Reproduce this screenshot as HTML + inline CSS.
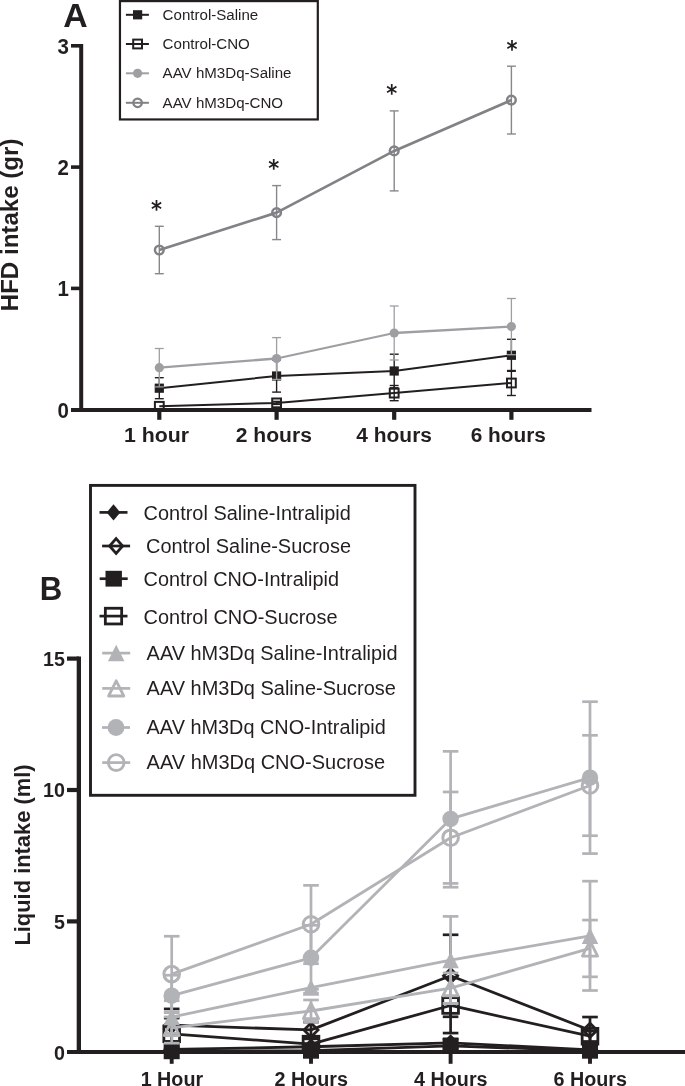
<!DOCTYPE html>
<html lang="en"><head><meta charset="utf-8"><title>Figure</title>
<style>
html,body{margin:0;padding:0;background:#fff;}
body{width:685px;height:1086px;overflow:hidden;}
svg{display:block;}
svg text{font-family:"Liberation Sans",sans-serif;fill:#231f20;}
</style></head><body>
<svg width="685" height="1086" viewBox="0 0 685 1086">
<rect width="685" height="1086" fill="#fff"/>
<line x1="81.20" y1="44.00" x2="81.20" y2="411.90" stroke="#231f20" stroke-width="4" stroke-linecap="butt"/>
<line x1="71.00" y1="409.90" x2="591.50" y2="409.90" stroke="#231f20" stroke-width="4.0" stroke-linecap="butt"/>
<line x1="71.00" y1="45.80" x2="81.20" y2="45.80" stroke="#231f20" stroke-width="3.6" stroke-linecap="butt"/>
<line x1="71.00" y1="167.10" x2="81.20" y2="167.10" stroke="#231f20" stroke-width="3.6" stroke-linecap="butt"/>
<line x1="71.00" y1="288.40" x2="81.20" y2="288.40" stroke="#231f20" stroke-width="3.6" stroke-linecap="butt"/>
<text transform="translate(68.90 53.70) scale(1 1.12)" font-size="20.5" font-weight="bold" text-anchor="end">3</text>
<text transform="translate(68.90 175.00) scale(1 1.12)" font-size="20.5" font-weight="bold" text-anchor="end">2</text>
<text transform="translate(68.90 296.30) scale(1 1.12)" font-size="20.5" font-weight="bold" text-anchor="end">1</text>
<text transform="translate(68.90 418.10) scale(1 1.12)" font-size="20.5" font-weight="bold" text-anchor="end">0</text>
<line x1="159.30" y1="409.90" x2="159.30" y2="419.80" stroke="#231f20" stroke-width="4.2" stroke-linecap="butt"/>
<line x1="276.60" y1="409.90" x2="276.60" y2="419.80" stroke="#231f20" stroke-width="4.2" stroke-linecap="butt"/>
<line x1="394.20" y1="409.90" x2="394.20" y2="419.80" stroke="#231f20" stroke-width="4.2" stroke-linecap="butt"/>
<line x1="511.40" y1="409.90" x2="511.40" y2="419.80" stroke="#231f20" stroke-width="4.2" stroke-linecap="butt"/>
<text transform="translate(156.50 441.90) scale(1.03 1)" font-size="20.7" font-weight="bold" text-anchor="middle">1 hour</text>
<text transform="translate(273.85 441.90) scale(1.02 1)" font-size="20.7" font-weight="bold" text-anchor="middle">2 hours</text>
<text transform="translate(394.10 441.90) scale(1.012 1)" font-size="20.7" font-weight="bold" text-anchor="middle">4 hours</text>
<text transform="translate(508.30 441.90) scale(1.005 1)" font-size="20.7" font-weight="bold" text-anchor="middle">6 hours</text>
<text x="0.00" y="0.00" font-size="23.5" font-weight="bold" text-anchor="middle" transform="translate(18.2 224.9) rotate(-90) scale(1.026 1)">HFD intake (gr)</text>
<text transform="translate(75.45 26.50) scale(1.147 1.13)" font-size="29.5" font-weight="bold" text-anchor="middle">A</text>
<line x1="159.30" y1="377.70" x2="159.30" y2="398.70" stroke="#231f20" stroke-width="1.4" stroke-linecap="butt"/>
<line x1="154.85" y1="377.70" x2="163.75" y2="377.70" stroke="#231f20" stroke-width="1.4" stroke-linecap="butt"/>
<line x1="154.85" y1="398.70" x2="163.75" y2="398.70" stroke="#231f20" stroke-width="1.4" stroke-linecap="butt"/>
<line x1="276.60" y1="359.90" x2="276.60" y2="392.10" stroke="#231f20" stroke-width="1.4" stroke-linecap="butt"/>
<line x1="272.15" y1="359.90" x2="281.05" y2="359.90" stroke="#231f20" stroke-width="1.4" stroke-linecap="butt"/>
<line x1="272.15" y1="392.10" x2="281.05" y2="392.10" stroke="#231f20" stroke-width="1.4" stroke-linecap="butt"/>
<line x1="394.20" y1="354.20" x2="394.20" y2="387.80" stroke="#231f20" stroke-width="1.4" stroke-linecap="butt"/>
<line x1="389.75" y1="354.20" x2="398.65" y2="354.20" stroke="#231f20" stroke-width="1.4" stroke-linecap="butt"/>
<line x1="389.75" y1="387.80" x2="398.65" y2="387.80" stroke="#231f20" stroke-width="1.4" stroke-linecap="butt"/>
<line x1="511.40" y1="339.30" x2="511.40" y2="371.30" stroke="#231f20" stroke-width="1.4" stroke-linecap="butt"/>
<line x1="506.95" y1="339.30" x2="515.85" y2="339.30" stroke="#231f20" stroke-width="1.4" stroke-linecap="butt"/>
<line x1="506.95" y1="371.30" x2="515.85" y2="371.30" stroke="#231f20" stroke-width="1.4" stroke-linecap="butt"/>
<polyline points="159.30,388.20 276.60,376.00 394.20,371.00 511.40,355.30" fill="none" stroke="#231f20" stroke-width="2.0" stroke-linejoin="round"/>
<rect x="154.70" y="383.60" width="9.20" height="9.20" fill="#231f20"/>
<rect x="272.00" y="371.40" width="9.20" height="9.20" fill="#231f20"/>
<rect x="389.60" y="366.40" width="9.20" height="9.20" fill="#231f20"/>
<rect x="506.80" y="350.70" width="9.20" height="9.20" fill="#231f20"/>
<line x1="159.30" y1="406.30" x2="159.30" y2="406.30" stroke="#231f20" stroke-width="1.4" stroke-linecap="butt"/>
<line x1="276.60" y1="401.40" x2="276.60" y2="404.40" stroke="#231f20" stroke-width="1.4" stroke-linecap="butt"/>
<line x1="272.15" y1="401.40" x2="281.05" y2="401.40" stroke="#231f20" stroke-width="1.4" stroke-linecap="butt"/>
<line x1="272.15" y1="404.40" x2="281.05" y2="404.40" stroke="#231f20" stroke-width="1.4" stroke-linecap="butt"/>
<line x1="394.20" y1="385.50" x2="394.20" y2="400.70" stroke="#231f20" stroke-width="1.4" stroke-linecap="butt"/>
<line x1="389.75" y1="385.50" x2="398.65" y2="385.50" stroke="#231f20" stroke-width="1.4" stroke-linecap="butt"/>
<line x1="389.75" y1="400.70" x2="398.65" y2="400.70" stroke="#231f20" stroke-width="1.4" stroke-linecap="butt"/>
<line x1="511.40" y1="370.50" x2="511.40" y2="395.50" stroke="#231f20" stroke-width="1.4" stroke-linecap="butt"/>
<line x1="506.95" y1="370.50" x2="515.85" y2="370.50" stroke="#231f20" stroke-width="1.4" stroke-linecap="butt"/>
<line x1="506.95" y1="395.50" x2="515.85" y2="395.50" stroke="#231f20" stroke-width="1.4" stroke-linecap="butt"/>
<polyline points="159.30,406.30 276.60,402.90 394.20,393.10 511.40,383.00" fill="none" stroke="#231f20" stroke-width="2.0" stroke-linejoin="round"/>
<rect x="154.90" y="401.90" width="8.80" height="8.80" fill="none" stroke="#231f20" stroke-width="2.0"/>
<rect x="272.20" y="398.50" width="8.80" height="8.80" fill="none" stroke="#231f20" stroke-width="2.0"/>
<rect x="389.80" y="388.70" width="8.80" height="8.80" fill="none" stroke="#231f20" stroke-width="2.0"/>
<rect x="507.00" y="378.60" width="8.80" height="8.80" fill="none" stroke="#231f20" stroke-width="2.0"/>
<line x1="159.30" y1="348.50" x2="159.30" y2="386.90" stroke="#9d9fa2" stroke-width="1.3" stroke-linecap="butt"/>
<line x1="154.85" y1="348.50" x2="163.75" y2="348.50" stroke="#9d9fa2" stroke-width="1.3" stroke-linecap="butt"/>
<line x1="154.85" y1="386.90" x2="163.75" y2="386.90" stroke="#9d9fa2" stroke-width="1.3" stroke-linecap="butt"/>
<line x1="276.60" y1="337.60" x2="276.60" y2="379.40" stroke="#9d9fa2" stroke-width="1.3" stroke-linecap="butt"/>
<line x1="272.15" y1="337.60" x2="281.05" y2="337.60" stroke="#9d9fa2" stroke-width="1.3" stroke-linecap="butt"/>
<line x1="272.15" y1="379.40" x2="281.05" y2="379.40" stroke="#9d9fa2" stroke-width="1.3" stroke-linecap="butt"/>
<line x1="394.20" y1="306.00" x2="394.20" y2="360.00" stroke="#9d9fa2" stroke-width="1.3" stroke-linecap="butt"/>
<line x1="389.75" y1="306.00" x2="398.65" y2="306.00" stroke="#9d9fa2" stroke-width="1.3" stroke-linecap="butt"/>
<line x1="389.75" y1="360.00" x2="398.65" y2="360.00" stroke="#9d9fa2" stroke-width="1.3" stroke-linecap="butt"/>
<line x1="511.40" y1="298.50" x2="511.40" y2="354.70" stroke="#9d9fa2" stroke-width="1.3" stroke-linecap="butt"/>
<line x1="506.95" y1="298.50" x2="515.85" y2="298.50" stroke="#9d9fa2" stroke-width="1.3" stroke-linecap="butt"/>
<line x1="506.95" y1="354.70" x2="515.85" y2="354.70" stroke="#9d9fa2" stroke-width="1.3" stroke-linecap="butt"/>
<polyline points="159.30,367.70 276.60,358.50 394.20,333.00 511.40,326.60" fill="none" stroke="#9d9fa2" stroke-width="2.3" stroke-linejoin="round"/>
<ellipse cx="159.30" cy="367.70" rx="4.60" ry="4.60" fill="#9d9fa2"/>
<ellipse cx="276.60" cy="358.50" rx="4.60" ry="4.60" fill="#9d9fa2"/>
<ellipse cx="394.20" cy="333.00" rx="4.60" ry="4.60" fill="#9d9fa2"/>
<ellipse cx="511.40" cy="326.60" rx="4.60" ry="4.60" fill="#9d9fa2"/>
<line x1="159.30" y1="226.30" x2="159.30" y2="273.70" stroke="#86888b" stroke-width="1.4" stroke-linecap="butt"/>
<line x1="154.85" y1="226.30" x2="163.75" y2="226.30" stroke="#86888b" stroke-width="1.4" stroke-linecap="butt"/>
<line x1="154.85" y1="273.70" x2="163.75" y2="273.70" stroke="#86888b" stroke-width="1.4" stroke-linecap="butt"/>
<line x1="276.60" y1="185.60" x2="276.60" y2="239.60" stroke="#86888b" stroke-width="1.4" stroke-linecap="butt"/>
<line x1="272.15" y1="185.60" x2="281.05" y2="185.60" stroke="#86888b" stroke-width="1.4" stroke-linecap="butt"/>
<line x1="272.15" y1="239.60" x2="281.05" y2="239.60" stroke="#86888b" stroke-width="1.4" stroke-linecap="butt"/>
<line x1="394.20" y1="110.90" x2="394.20" y2="190.90" stroke="#86888b" stroke-width="1.4" stroke-linecap="butt"/>
<line x1="389.75" y1="110.90" x2="398.65" y2="110.90" stroke="#86888b" stroke-width="1.4" stroke-linecap="butt"/>
<line x1="389.75" y1="190.90" x2="398.65" y2="190.90" stroke="#86888b" stroke-width="1.4" stroke-linecap="butt"/>
<line x1="511.40" y1="66.20" x2="511.40" y2="134.00" stroke="#86888b" stroke-width="1.4" stroke-linecap="butt"/>
<line x1="506.95" y1="66.20" x2="515.85" y2="66.20" stroke="#86888b" stroke-width="1.4" stroke-linecap="butt"/>
<line x1="506.95" y1="134.00" x2="515.85" y2="134.00" stroke="#86888b" stroke-width="1.4" stroke-linecap="butt"/>
<polyline points="159.30,250.00 276.60,212.60 394.20,150.90 511.40,100.10" fill="none" stroke="#808285" stroke-width="2.7" stroke-linejoin="round"/>
<ellipse cx="159.30" cy="250.00" rx="4.35" ry="4.35" fill="none" stroke="#808285" stroke-width="2.5"/>
<ellipse cx="276.60" cy="212.60" rx="4.35" ry="4.35" fill="none" stroke="#808285" stroke-width="2.5"/>
<ellipse cx="394.20" cy="150.90" rx="4.35" ry="4.35" fill="none" stroke="#808285" stroke-width="2.5"/>
<ellipse cx="511.40" cy="100.10" rx="4.35" ry="4.35" fill="none" stroke="#808285" stroke-width="2.5"/>
<text transform="translate(156.50 216.97) scale(0.93 1)" font-size="22.6" font-weight="bold" text-anchor="middle" style="font-family:'DejaVu Sans','Liberation Sans',sans-serif">*</text>
<text transform="translate(273.79 175.60) scale(0.93 1)" font-size="22.6" font-weight="bold" text-anchor="middle" style="font-family:'DejaVu Sans','Liberation Sans',sans-serif">*</text>
<text transform="translate(391.79 101.24) scale(0.93 1)" font-size="22.6" font-weight="bold" text-anchor="middle" style="font-family:'DejaVu Sans','Liberation Sans',sans-serif">*</text>
<text transform="translate(512.00 57.12) scale(0.93 1)" font-size="22.6" font-weight="bold" text-anchor="middle" style="font-family:'DejaVu Sans','Liberation Sans',sans-serif">*</text>
<rect x="119.96" y="1.1" width="197.84" height="118.35" fill="#fff" stroke="#231f20" stroke-width="2.2"/>
<line x1="125.90" y1="14.80" x2="148.90" y2="14.80" stroke="#231f20" stroke-width="2.0" stroke-linecap="butt"/>
<rect x="133.00" y="10.20" width="9.20" height="9.20" fill="#231f20"/>
<text transform="translate(162.60 20.10) scale(1 1)" font-size="15.1" font-weight="normal" text-anchor="start">Control-Saline</text>
<line x1="125.90" y1="44.00" x2="148.90" y2="44.00" stroke="#231f20" stroke-width="2.0" stroke-linecap="butt"/>
<rect x="133.20" y="39.60" width="8.80" height="8.80" fill="none" stroke="#231f20" stroke-width="2.0"/>
<text transform="translate(162.60 48.90) scale(1 1)" font-size="15.1" font-weight="normal" text-anchor="start">Control-CNO</text>
<line x1="125.90" y1="73.30" x2="148.90" y2="73.30" stroke="#9d9fa2" stroke-width="2.0" stroke-linecap="butt"/>
<ellipse cx="137.60" cy="73.30" rx="4.60" ry="4.60" fill="#9d9fa2"/>
<text transform="translate(162.60 78.20) scale(1 1)" font-size="15.1" font-weight="normal" text-anchor="start">AAV hM3Dq-Saline</text>
<line x1="125.90" y1="102.80" x2="148.90" y2="102.80" stroke="#808285" stroke-width="2.0" stroke-linecap="butt"/>
<ellipse cx="137.60" cy="102.80" rx="4.25" ry="4.25" fill="none" stroke="#808285" stroke-width="2.3"/>
<text transform="translate(162.60 107.90) scale(1 1)" font-size="15.1" font-weight="normal" text-anchor="start">AAV hM3Dq-CNO</text>
<line x1="78.85" y1="656.50" x2="78.85" y2="1054.10" stroke="#231f20" stroke-width="4.3" stroke-linecap="butt"/>
<line x1="67.00" y1="1052.00" x2="685.00" y2="1052.00" stroke="#231f20" stroke-width="4.2" stroke-linecap="butt"/>
<line x1="67.00" y1="658.60" x2="78.85" y2="658.60" stroke="#231f20" stroke-width="4.2" stroke-linecap="butt"/>
<line x1="67.00" y1="790.00" x2="78.85" y2="790.00" stroke="#231f20" stroke-width="4.2" stroke-linecap="butt"/>
<line x1="67.00" y1="921.40" x2="78.85" y2="921.40" stroke="#231f20" stroke-width="4.2" stroke-linecap="butt"/>
<text transform="translate(65.00 665.80) scale(1.077 1.13)" font-size="18.3" font-weight="bold" text-anchor="end">15</text>
<text transform="translate(65.00 797.20) scale(1.077 1.13)" font-size="18.3" font-weight="bold" text-anchor="end">10</text>
<text transform="translate(65.00 928.60) scale(1.077 1.13)" font-size="18.3" font-weight="bold" text-anchor="end">5</text>
<text transform="translate(65.00 1060.00) scale(1.077 1.13)" font-size="18.3" font-weight="bold" text-anchor="end">0</text>
<line x1="171.70" y1="1052.00" x2="171.70" y2="1063.80" stroke="#231f20" stroke-width="3.9" stroke-linecap="butt"/>
<line x1="311.00" y1="1052.00" x2="311.00" y2="1063.80" stroke="#231f20" stroke-width="3.9" stroke-linecap="butt"/>
<line x1="450.60" y1="1052.00" x2="450.60" y2="1063.80" stroke="#231f20" stroke-width="3.9" stroke-linecap="butt"/>
<line x1="590.00" y1="1052.00" x2="590.00" y2="1063.80" stroke="#231f20" stroke-width="3.9" stroke-linecap="butt"/>
<text transform="translate(171.90 1086.00) scale(0.988 1.04)" font-size="20" font-weight="bold" text-anchor="middle">1 Hour</text>
<text transform="translate(311.20 1086.00) scale(0.988 1.04)" font-size="20" font-weight="bold" text-anchor="middle">2 Hours</text>
<text transform="translate(450.80 1086.00) scale(0.988 1.04)" font-size="20" font-weight="bold" text-anchor="middle">4 Hours</text>
<text transform="translate(590.20 1086.00) scale(0.988 1.04)" font-size="20" font-weight="bold" text-anchor="middle">6 Hours</text>
<text x="0.00" y="0.00" font-size="21.9" font-weight="bold" text-anchor="middle" transform="translate(30.4 855.0) rotate(-90) scale(1 1.04)">Liquid intake (ml)</text>
<text transform="translate(39.80 600.20) scale(1.093 1.18)" font-size="28.5" font-weight="bold" text-anchor="start">B</text>
<line x1="171.70" y1="1046.74" x2="171.70" y2="1052.00" stroke="#231f20" stroke-width="2.7" stroke-linecap="butt"/>
<line x1="163.90" y1="1046.74" x2="179.50" y2="1046.74" stroke="#231f20" stroke-width="2.7" stroke-linecap="butt"/>
<line x1="163.90" y1="1052.00" x2="179.50" y2="1052.00" stroke="#231f20" stroke-width="2.7" stroke-linecap="butt"/>
<line x1="311.00" y1="1044.12" x2="311.00" y2="1049.37" stroke="#231f20" stroke-width="2.7" stroke-linecap="butt"/>
<line x1="303.20" y1="1044.12" x2="318.80" y2="1044.12" stroke="#231f20" stroke-width="2.7" stroke-linecap="butt"/>
<line x1="303.20" y1="1049.37" x2="318.80" y2="1049.37" stroke="#231f20" stroke-width="2.7" stroke-linecap="butt"/>
<line x1="450.60" y1="1038.86" x2="450.60" y2="1046.74" stroke="#231f20" stroke-width="2.7" stroke-linecap="butt"/>
<line x1="442.80" y1="1038.86" x2="458.40" y2="1038.86" stroke="#231f20" stroke-width="2.7" stroke-linecap="butt"/>
<line x1="442.80" y1="1046.74" x2="458.40" y2="1046.74" stroke="#231f20" stroke-width="2.7" stroke-linecap="butt"/>
<line x1="590.00" y1="1048.58" x2="590.00" y2="1051.21" stroke="#231f20" stroke-width="2.7" stroke-linecap="butt"/>
<line x1="582.20" y1="1048.58" x2="597.80" y2="1048.58" stroke="#231f20" stroke-width="2.7" stroke-linecap="butt"/>
<line x1="582.20" y1="1051.21" x2="597.80" y2="1051.21" stroke="#231f20" stroke-width="2.7" stroke-linecap="butt"/>
<polyline points="171.70,1049.37 311.00,1046.74 450.60,1042.80 590.00,1049.90" fill="none" stroke="#231f20" stroke-width="2.8" stroke-linejoin="round"/>
<polygon points="171.70,1040.87 180.20,1049.37 171.70,1057.87 163.20,1049.37" fill="#231f20"/>
<polygon points="311.00,1038.24 319.50,1046.74 311.00,1055.24 302.50,1046.74" fill="#231f20"/>
<polygon points="450.60,1034.30 459.10,1042.80 450.60,1051.30 442.10,1042.80" fill="#231f20"/>
<polygon points="590.00,1041.40 598.50,1049.90 590.00,1058.40 581.50,1049.90" fill="#231f20"/>
<line x1="171.70" y1="1008.90" x2="171.70" y2="1041.49" stroke="#231f20" stroke-width="2.7" stroke-linecap="butt"/>
<line x1="163.90" y1="1008.90" x2="179.50" y2="1008.90" stroke="#231f20" stroke-width="2.7" stroke-linecap="butt"/>
<line x1="163.90" y1="1041.49" x2="179.50" y2="1041.49" stroke="#231f20" stroke-width="2.7" stroke-linecap="butt"/>
<line x1="311.00" y1="1022.04" x2="311.00" y2="1037.81" stroke="#231f20" stroke-width="2.7" stroke-linecap="butt"/>
<line x1="303.20" y1="1022.04" x2="318.80" y2="1022.04" stroke="#231f20" stroke-width="2.7" stroke-linecap="butt"/>
<line x1="303.20" y1="1037.81" x2="318.80" y2="1037.81" stroke="#231f20" stroke-width="2.7" stroke-linecap="butt"/>
<line x1="450.60" y1="934.79" x2="450.60" y2="1016.78" stroke="#231f20" stroke-width="2.7" stroke-linecap="butt"/>
<line x1="442.80" y1="934.79" x2="458.40" y2="934.79" stroke="#231f20" stroke-width="2.7" stroke-linecap="butt"/>
<line x1="442.80" y1="1016.78" x2="458.40" y2="1016.78" stroke="#231f20" stroke-width="2.7" stroke-linecap="butt"/>
<line x1="590.00" y1="1017.05" x2="590.00" y2="1043.33" stroke="#231f20" stroke-width="2.7" stroke-linecap="butt"/>
<line x1="582.20" y1="1017.05" x2="597.80" y2="1017.05" stroke="#231f20" stroke-width="2.7" stroke-linecap="butt"/>
<line x1="582.20" y1="1043.33" x2="597.80" y2="1043.33" stroke="#231f20" stroke-width="2.7" stroke-linecap="butt"/>
<polyline points="171.70,1025.19 311.00,1029.92 450.60,975.79 590.00,1030.19" fill="none" stroke="#231f20" stroke-width="2.8" stroke-linejoin="round"/>
<polygon points="171.70,1018.17 178.72,1025.19 171.70,1032.21 164.68,1025.19" fill="none" stroke="#231f20" stroke-width="2.8" stroke-linejoin="miter" stroke-miterlimit="10"/>
<polygon points="311.00,1022.90 318.02,1029.92 311.00,1036.94 303.98,1029.92" fill="none" stroke="#231f20" stroke-width="2.8" stroke-linejoin="miter" stroke-miterlimit="10"/>
<polygon points="450.60,968.77 457.62,975.79 450.60,982.81 443.58,975.79" fill="none" stroke="#231f20" stroke-width="2.8" stroke-linejoin="miter" stroke-miterlimit="10"/>
<polygon points="590.00,1023.17 597.02,1030.19 590.00,1037.21 582.98,1030.19" fill="none" stroke="#231f20" stroke-width="2.8" stroke-linejoin="miter" stroke-miterlimit="10"/>
<line x1="171.70" y1="1049.90" x2="171.70" y2="1052.53" stroke="#231f20" stroke-width="2.7" stroke-linecap="butt"/>
<line x1="163.90" y1="1049.90" x2="179.50" y2="1049.90" stroke="#231f20" stroke-width="2.7" stroke-linecap="butt"/>
<line x1="163.90" y1="1052.53" x2="179.50" y2="1052.53" stroke="#231f20" stroke-width="2.7" stroke-linecap="butt"/>
<line x1="311.00" y1="1049.37" x2="311.00" y2="1052.00" stroke="#231f20" stroke-width="2.7" stroke-linecap="butt"/>
<line x1="303.20" y1="1049.37" x2="318.80" y2="1049.37" stroke="#231f20" stroke-width="2.7" stroke-linecap="butt"/>
<line x1="303.20" y1="1052.00" x2="318.80" y2="1052.00" stroke="#231f20" stroke-width="2.7" stroke-linecap="butt"/>
<line x1="450.60" y1="1043.33" x2="450.60" y2="1048.58" stroke="#231f20" stroke-width="2.7" stroke-linecap="butt"/>
<line x1="442.80" y1="1043.33" x2="458.40" y2="1043.33" stroke="#231f20" stroke-width="2.7" stroke-linecap="butt"/>
<line x1="442.80" y1="1048.58" x2="458.40" y2="1048.58" stroke="#231f20" stroke-width="2.7" stroke-linecap="butt"/>
<line x1="590.00" y1="1049.37" x2="590.00" y2="1052.00" stroke="#231f20" stroke-width="2.7" stroke-linecap="butt"/>
<line x1="582.20" y1="1049.37" x2="597.80" y2="1049.37" stroke="#231f20" stroke-width="2.7" stroke-linecap="butt"/>
<line x1="582.20" y1="1052.00" x2="597.80" y2="1052.00" stroke="#231f20" stroke-width="2.7" stroke-linecap="butt"/>
<polyline points="171.70,1051.21 311.00,1050.69 450.60,1045.96 590.00,1050.69" fill="none" stroke="#231f20" stroke-width="2.8" stroke-linejoin="round"/>
<rect x="163.70" y="1043.21" width="16.00" height="16.00" fill="#231f20"/>
<rect x="303.00" y="1042.69" width="16.00" height="16.00" fill="#231f20"/>
<rect x="442.60" y="1037.96" width="16.00" height="16.00" fill="#231f20"/>
<rect x="582.00" y="1042.69" width="16.00" height="16.00" fill="#231f20"/>
<line x1="171.70" y1="1018.10" x2="171.70" y2="1049.63" stroke="#231f20" stroke-width="2.7" stroke-linecap="butt"/>
<line x1="163.90" y1="1018.10" x2="179.50" y2="1018.10" stroke="#231f20" stroke-width="2.7" stroke-linecap="butt"/>
<line x1="163.90" y1="1049.63" x2="179.50" y2="1049.63" stroke="#231f20" stroke-width="2.7" stroke-linecap="butt"/>
<line x1="311.00" y1="1038.86" x2="311.00" y2="1049.37" stroke="#231f20" stroke-width="2.7" stroke-linecap="butt"/>
<line x1="303.20" y1="1038.86" x2="318.80" y2="1038.86" stroke="#231f20" stroke-width="2.7" stroke-linecap="butt"/>
<line x1="303.20" y1="1049.37" x2="318.80" y2="1049.37" stroke="#231f20" stroke-width="2.7" stroke-linecap="butt"/>
<line x1="450.60" y1="977.89" x2="450.60" y2="1033.08" stroke="#231f20" stroke-width="2.7" stroke-linecap="butt"/>
<line x1="442.80" y1="977.89" x2="458.40" y2="977.89" stroke="#231f20" stroke-width="2.7" stroke-linecap="butt"/>
<line x1="442.80" y1="1033.08" x2="458.40" y2="1033.08" stroke="#231f20" stroke-width="2.7" stroke-linecap="butt"/>
<line x1="590.00" y1="1030.98" x2="590.00" y2="1041.49" stroke="#231f20" stroke-width="2.7" stroke-linecap="butt"/>
<line x1="582.20" y1="1030.98" x2="597.80" y2="1030.98" stroke="#231f20" stroke-width="2.7" stroke-linecap="butt"/>
<line x1="582.20" y1="1041.49" x2="597.80" y2="1041.49" stroke="#231f20" stroke-width="2.7" stroke-linecap="butt"/>
<polyline points="171.70,1033.87 311.00,1044.12 450.60,1005.48 590.00,1036.23" fill="none" stroke="#231f20" stroke-width="2.8" stroke-linejoin="round"/>
<rect x="163.85" y="1026.02" width="15.70" height="15.70" fill="none" stroke="#231f20" stroke-width="2.8"/>
<rect x="303.15" y="1036.27" width="15.70" height="15.70" fill="none" stroke="#231f20" stroke-width="2.8"/>
<rect x="442.75" y="997.63" width="15.70" height="15.70" fill="none" stroke="#231f20" stroke-width="2.8"/>
<rect x="582.15" y="1028.38" width="15.70" height="15.70" fill="none" stroke="#231f20" stroke-width="2.8"/>
<line x1="171.70" y1="1000.75" x2="171.70" y2="1033.34" stroke="#b1b3b6" stroke-width="2.7" stroke-linecap="butt"/>
<line x1="163.90" y1="1000.75" x2="179.50" y2="1000.75" stroke="#b1b3b6" stroke-width="2.7" stroke-linecap="butt"/>
<line x1="163.90" y1="1033.34" x2="179.50" y2="1033.34" stroke="#b1b3b6" stroke-width="2.7" stroke-linecap="butt"/>
<line x1="311.00" y1="987.61" x2="311.00" y2="993.13" stroke="#b1b3b6" stroke-width="2.7" stroke-linecap="butt"/>
<line x1="303.20" y1="993.13" x2="318.80" y2="993.13" stroke="#b1b3b6" stroke-width="2.7" stroke-linecap="butt"/>
<line x1="450.60" y1="916.40" x2="450.60" y2="1003.64" stroke="#b1b3b6" stroke-width="2.7" stroke-linecap="butt"/>
<line x1="442.80" y1="916.40" x2="458.40" y2="916.40" stroke="#b1b3b6" stroke-width="2.7" stroke-linecap="butt"/>
<line x1="442.80" y1="1003.64" x2="458.40" y2="1003.64" stroke="#b1b3b6" stroke-width="2.7" stroke-linecap="butt"/>
<line x1="590.00" y1="881.18" x2="590.00" y2="990.50" stroke="#b1b3b6" stroke-width="2.7" stroke-linecap="butt"/>
<line x1="582.20" y1="881.18" x2="597.80" y2="881.18" stroke="#b1b3b6" stroke-width="2.7" stroke-linecap="butt"/>
<line x1="582.20" y1="990.50" x2="597.80" y2="990.50" stroke="#b1b3b6" stroke-width="2.7" stroke-linecap="butt"/>
<polyline points="171.70,1017.05 311.00,987.61 450.60,960.02 590.00,935.84" fill="none" stroke="#b1b3b6" stroke-width="2.8" stroke-linejoin="round"/>
<polygon points="171.70,1008.80 179.95,1025.30 163.45,1025.30" fill="#b1b3b6"/>
<polygon points="311.00,979.36 319.25,995.86 302.75,995.86" fill="#b1b3b6"/>
<polygon points="450.60,951.77 458.85,968.27 442.35,968.27" fill="#b1b3b6"/>
<polygon points="590.00,927.59 598.25,944.09 581.75,944.09" fill="#b1b3b6"/>
<line x1="171.70" y1="1012.71" x2="171.70" y2="1043.20" stroke="#b1b3b6" stroke-width="2.7" stroke-linecap="butt"/>
<line x1="163.90" y1="1012.71" x2="179.50" y2="1012.71" stroke="#b1b3b6" stroke-width="2.7" stroke-linecap="butt"/>
<line x1="163.90" y1="1043.20" x2="179.50" y2="1043.20" stroke="#b1b3b6" stroke-width="2.7" stroke-linecap="butt"/>
<line x1="311.00" y1="999.97" x2="311.00" y2="1022.04" stroke="#b1b3b6" stroke-width="2.7" stroke-linecap="butt"/>
<line x1="303.20" y1="999.97" x2="318.80" y2="999.97" stroke="#b1b3b6" stroke-width="2.7" stroke-linecap="butt"/>
<line x1="303.20" y1="1022.04" x2="318.80" y2="1022.04" stroke="#b1b3b6" stroke-width="2.7" stroke-linecap="butt"/>
<line x1="450.60" y1="972.90" x2="450.60" y2="1003.38" stroke="#b1b3b6" stroke-width="2.7" stroke-linecap="butt"/>
<line x1="442.80" y1="972.90" x2="458.40" y2="972.90" stroke="#b1b3b6" stroke-width="2.7" stroke-linecap="butt"/>
<line x1="442.80" y1="1003.38" x2="458.40" y2="1003.38" stroke="#b1b3b6" stroke-width="2.7" stroke-linecap="butt"/>
<line x1="590.00" y1="920.07" x2="590.00" y2="976.84" stroke="#b1b3b6" stroke-width="2.7" stroke-linecap="butt"/>
<line x1="582.20" y1="920.07" x2="597.80" y2="920.07" stroke="#b1b3b6" stroke-width="2.7" stroke-linecap="butt"/>
<line x1="582.20" y1="976.84" x2="597.80" y2="976.84" stroke="#b1b3b6" stroke-width="2.7" stroke-linecap="butt"/>
<polyline points="171.70,1027.95 311.00,1011.00 450.60,988.14 590.00,948.46" fill="none" stroke="#b1b3b6" stroke-width="2.8" stroke-linejoin="round"/>
<polygon points="171.70,1020.35 179.30,1035.55 164.10,1035.55" fill="none" stroke="#b1b3b6" stroke-width="2.8" stroke-linejoin="round"/>
<polygon points="311.00,1003.40 318.60,1018.60 303.40,1018.60" fill="none" stroke="#b1b3b6" stroke-width="2.8" stroke-linejoin="round"/>
<polygon points="450.60,980.54 458.20,995.74 443.00,995.74" fill="none" stroke="#b1b3b6" stroke-width="2.8" stroke-linejoin="round"/>
<polygon points="590.00,940.86 597.60,956.06 582.40,956.06" fill="none" stroke="#b1b3b6" stroke-width="2.8" stroke-linejoin="round"/>
<line x1="171.70" y1="975.24" x2="171.70" y2="1016.92" stroke="#b1b3b6" stroke-width="2.7" stroke-linecap="butt"/>
<line x1="163.90" y1="975.24" x2="179.50" y2="975.24" stroke="#b1b3b6" stroke-width="2.7" stroke-linecap="butt"/>
<line x1="163.90" y1="1016.92" x2="179.50" y2="1016.92" stroke="#b1b3b6" stroke-width="2.7" stroke-linecap="butt"/>
<line x1="311.00" y1="925.28" x2="311.00" y2="989.32" stroke="#b1b3b6" stroke-width="2.7" stroke-linecap="butt"/>
<line x1="303.20" y1="925.28" x2="318.80" y2="925.28" stroke="#b1b3b6" stroke-width="2.7" stroke-linecap="butt"/>
<line x1="303.20" y1="989.32" x2="318.80" y2="989.32" stroke="#b1b3b6" stroke-width="2.7" stroke-linecap="butt"/>
<line x1="450.60" y1="751.36" x2="450.60" y2="887.22" stroke="#b1b3b6" stroke-width="2.7" stroke-linecap="butt"/>
<line x1="442.80" y1="751.36" x2="458.40" y2="751.36" stroke="#b1b3b6" stroke-width="2.7" stroke-linecap="butt"/>
<line x1="442.80" y1="887.22" x2="458.40" y2="887.22" stroke="#b1b3b6" stroke-width="2.7" stroke-linecap="butt"/>
<line x1="590.00" y1="701.69" x2="590.00" y2="853.59" stroke="#b1b3b6" stroke-width="2.7" stroke-linecap="butt"/>
<line x1="582.20" y1="701.69" x2="597.80" y2="701.69" stroke="#b1b3b6" stroke-width="2.7" stroke-linecap="butt"/>
<line x1="582.20" y1="853.59" x2="597.80" y2="853.59" stroke="#b1b3b6" stroke-width="2.7" stroke-linecap="butt"/>
<polyline points="171.70,995.63 311.00,957.79 450.60,818.90 590.00,777.64" fill="none" stroke="#b1b3b6" stroke-width="2.8" stroke-linejoin="round"/>
<ellipse cx="171.70" cy="995.63" rx="8.25" ry="8.25" fill="#b1b3b6"/>
<ellipse cx="311.00" cy="957.79" rx="8.25" ry="8.25" fill="#b1b3b6"/>
<ellipse cx="450.60" cy="818.90" rx="8.25" ry="8.25" fill="#b1b3b6"/>
<ellipse cx="590.00" cy="777.64" rx="8.25" ry="8.25" fill="#b1b3b6"/>
<line x1="171.70" y1="936.24" x2="171.70" y2="1011.92" stroke="#b1b3b6" stroke-width="2.7" stroke-linecap="butt"/>
<line x1="163.90" y1="936.24" x2="179.50" y2="936.24" stroke="#b1b3b6" stroke-width="2.7" stroke-linecap="butt"/>
<line x1="163.90" y1="1011.92" x2="179.50" y2="1011.92" stroke="#b1b3b6" stroke-width="2.7" stroke-linecap="butt"/>
<line x1="311.00" y1="885.38" x2="311.00" y2="963.70" stroke="#b1b3b6" stroke-width="2.7" stroke-linecap="butt"/>
<line x1="303.20" y1="885.38" x2="318.80" y2="885.38" stroke="#b1b3b6" stroke-width="2.7" stroke-linecap="butt"/>
<line x1="303.20" y1="963.70" x2="318.80" y2="963.70" stroke="#b1b3b6" stroke-width="2.7" stroke-linecap="butt"/>
<line x1="450.60" y1="791.96" x2="450.60" y2="883.41" stroke="#b1b3b6" stroke-width="2.7" stroke-linecap="butt"/>
<line x1="442.80" y1="791.96" x2="458.40" y2="791.96" stroke="#b1b3b6" stroke-width="2.7" stroke-linecap="butt"/>
<line x1="442.80" y1="883.41" x2="458.40" y2="883.41" stroke="#b1b3b6" stroke-width="2.7" stroke-linecap="butt"/>
<line x1="590.00" y1="735.33" x2="590.00" y2="835.72" stroke="#b1b3b6" stroke-width="2.7" stroke-linecap="butt"/>
<line x1="582.20" y1="735.33" x2="597.80" y2="735.33" stroke="#b1b3b6" stroke-width="2.7" stroke-linecap="butt"/>
<line x1="582.20" y1="835.72" x2="597.80" y2="835.72" stroke="#b1b3b6" stroke-width="2.7" stroke-linecap="butt"/>
<polyline points="171.70,974.08 311.00,924.28 450.60,837.69 590.00,785.52" fill="none" stroke="#b1b3b6" stroke-width="2.8" stroke-linejoin="round"/>
<ellipse cx="171.70" cy="974.08" rx="7.80" ry="7.80" fill="none" stroke="#b1b3b6" stroke-width="3.0"/>
<ellipse cx="311.00" cy="924.28" rx="7.80" ry="7.80" fill="none" stroke="#b1b3b6" stroke-width="3.0"/>
<ellipse cx="450.60" cy="837.69" rx="7.80" ry="7.80" fill="none" stroke="#b1b3b6" stroke-width="3.0"/>
<ellipse cx="590.00" cy="785.52" rx="7.80" ry="7.80" fill="none" stroke="#b1b3b6" stroke-width="3.0"/>
<rect x="90.5" y="485.4" width="324.5" height="309.9" fill="#fff" stroke="#231f20" stroke-width="2.9"/>
<line x1="99.50" y1="512.40" x2="127.50" y2="512.40" stroke="#231f20" stroke-width="2.7" stroke-linecap="butt"/>
<polygon points="113.50,504.30 120.30,512.40 113.50,520.50 106.70,512.40" fill="#231f20"/>
<text transform="translate(143.60 519.70) scale(1.007 1.03)" font-size="19.8" font-weight="normal" text-anchor="start">Control Saline-Intralipid</text>
<line x1="102.10" y1="546.00" x2="130.10" y2="546.00" stroke="#231f20" stroke-width="2.7" stroke-linecap="butt"/>
<polygon points="116.10,538.57 122.64,546.00 116.10,553.43 109.56,546.00" fill="none" stroke="#231f20" stroke-width="2.8" stroke-linejoin="miter" stroke-miterlimit="10"/>
<text transform="translate(146.00 552.60) scale(1.008 1.03)" font-size="19.8" font-weight="normal" text-anchor="start">Control Saline-Sucrose</text>
<line x1="99.70" y1="578.70" x2="127.70" y2="578.70" stroke="#231f20" stroke-width="2.7" stroke-linecap="butt"/>
<rect x="105.50" y="570.80" width="16.40" height="15.80" fill="#231f20"/>
<text transform="translate(143.60 585.70) scale(1.004 1.03)" font-size="19.8" font-weight="normal" text-anchor="start">Control CNO-Intralipid</text>
<line x1="99.50" y1="616.10" x2="127.50" y2="616.10" stroke="#231f20" stroke-width="2.7" stroke-linecap="butt"/>
<rect x="105.35" y="608.25" width="16.30" height="15.70" fill="none" stroke="#231f20" stroke-width="2.8"/>
<text transform="translate(143.60 623.50) scale(1.008 1.03)" font-size="19.8" font-weight="normal" text-anchor="start">Control CNO-Sucrose</text>
<line x1="102.20" y1="653.10" x2="130.20" y2="653.10" stroke="#b1b3b6" stroke-width="2.7" stroke-linecap="butt"/>
<polygon points="116.20,644.85 124.45,661.35 107.95,661.35" fill="#b1b3b6"/>
<text transform="translate(146.60 660.10) scale(1.0064 1.03)" font-size="19.8" font-weight="normal" text-anchor="start">AAV hM3Dq Saline-Intralipid</text>
<line x1="102.20" y1="688.40" x2="130.20" y2="688.40" stroke="#b1b3b6" stroke-width="2.7" stroke-linecap="butt"/>
<polygon points="116.20,680.80 123.80,696.00 108.60,696.00" fill="none" stroke="#b1b3b6" stroke-width="2.8" stroke-linejoin="round"/>
<text transform="translate(146.60 695.20) scale(1.009 1.03)" font-size="19.8" font-weight="normal" text-anchor="start">AAV hM3Dq Saline-Sucrose</text>
<line x1="102.00" y1="727.50" x2="130.00" y2="727.50" stroke="#b1b3b6" stroke-width="2.7" stroke-linecap="butt"/>
<ellipse cx="116.00" cy="727.50" rx="8.40" ry="8.40" fill="#b1b3b6"/>
<text transform="translate(146.60 734.20) scale(1.004 1.03)" font-size="19.8" font-weight="normal" text-anchor="start">AAV hM3Dq CNO-Intralipid</text>
<line x1="102.20" y1="762.60" x2="130.20" y2="762.60" stroke="#b1b3b6" stroke-width="2.7" stroke-linecap="butt"/>
<ellipse cx="116.20" cy="762.60" rx="7.90" ry="7.90" fill="none" stroke="#b1b3b6" stroke-width="2.8"/>
<text transform="translate(146.60 769.20) scale(1.0098 1.03)" font-size="19.8" font-weight="normal" text-anchor="start">AAV hM3Dq CNO-Sucrose</text>
</svg>
</body></html>
